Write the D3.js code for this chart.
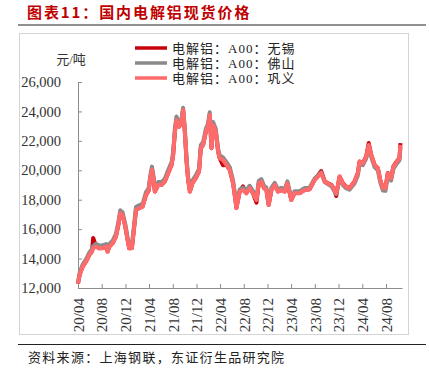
<!DOCTYPE html>
<html>
<head>
<meta charset="utf-8">
<script src="https://cdn.jsdelivr.net/npm/d3@7"></script>
<style>
  body { margin: 0; background: #fff; }
  svg { display: block; font-family: "Liberation Serif", "Noto Sans CJK SC", serif; }
</style>
</head>
<body>
<svg id="chart" width="429" height="375"></svg>
<script>
// 日期（x 轴）
const dates = [
  "2020-04-01","2020-04-10","2020-04-25","2020-05-12","2020-05-29","2020-06-12","2020-06-18","2020-07-02","2020-07-19","2020-08-06",
  "2020-08-23","2020-08-31","2020-09-09","2020-09-26","2020-10-13","2020-10-27","2020-11-04","2020-11-16","2020-11-30","2020-12-12",
  "2020-12-20","2021-01-03","2021-01-15","2021-01-24","2021-02-09","2021-02-27","2021-03-16","2021-03-30","2021-04-08","2021-04-16",
  "2021-04-24","2021-05-01","2021-05-18","2021-06-04","2021-06-21","2021-07-08","2021-07-26","2021-08-03","2021-08-12","2021-08-20",
  "2021-09-03","2021-09-15","2021-09-23","2021-10-02","2021-10-11","2021-10-19","2021-10-28","2021-11-10","2021-11-27","2021-12-14",
  "2021-12-23","2022-01-04","2022-01-18","2022-01-29","2022-02-07","2022-02-16","2022-02-24","2022-03-10","2022-03-22","2022-03-30",
  "2022-04-16","2022-05-04","2022-05-21","2022-06-07","2022-06-19","2022-06-24","2022-07-11","2022-07-28","2022-08-14","2022-08-31",
  "2022-09-17","2022-10-05","2022-10-17","2022-10-30","2022-11-13","2022-11-25","2022-12-07","2022-12-21","2023-01-07","2023-01-24",
  "2023-02-10","2023-02-27","2023-03-13","2023-03-25","2023-04-02","2023-04-19","2023-05-15","2023-06-10","2023-07-05","2023-07-31",
  "2023-08-17","2023-09-03","2023-09-21","2023-10-08","2023-10-25","2023-11-10","2023-11-19","2023-12-06","2023-12-23","2024-01-09",
  "2024-01-26","2024-02-21","2024-03-09","2024-03-18","2024-04-04","2024-04-21","2024-05-04","2024-05-17","2024-06-03","2024-06-20",
  "2024-07-02","2024-07-16","2024-07-29","2024-08-10","2024-08-27","2024-09-08","2024-09-25","2024-10-09","2024-10-14"
];

// 电解铝：A00：无锡
const wuxi = [
  12300,12950,13450,13800,14250,14500,15400,14850,14700,14720,
  14800,14480,14820,15050,15500,16400,17100,16980,16180,15270,
  14700,14720,16180,17300,17430,17540,18300,18620,19500,20060,
  19400,18560,19000,19010,19240,19800,20370,21050,22620,23430,
  22970,23320,24100,22630,20600,19350,18560,19120,19470,19920,
  21510,21730,22630,22970,23770,21500,23090,22620,21280,20830,
  20350,20370,20030,19120,17990,17430,18560,18900,18450,18790,
  18450,17800,19120,19240,18790,18670,17650,18670,19010,18560,
  18670,18560,19120,18450,17990,18450,18450,18670,18710,19350,
  19650,19950,19240,19120,19010,18670,18250,19580,19120,18900,
  18790,19240,19810,20600,20490,20940,21850,21050,20370,20150,
  19350,18790,18790,19810,19470,20260,20600,20830,21850
];

// 电解铝：A00：佛山
const foshan = [
  12400,13050,13600,13950,14400,14650,14850,15000,14880,14900,
  14980,14650,15000,15220,15680,16600,17280,17150,16350,15450,
  14880,14900,16380,17500,17620,17720,18500,18800,19700,20250,
  19600,18750,19200,19200,19420,20000,20560,21250,22850,23650,
  23180,23520,24250,22850,20800,19550,18750,19300,19650,20100,
  21700,21920,22820,23160,23950,21700,23280,22820,21470,21020,
  20880,20550,20200,19300,18150,17600,18700,18820,18620,18950,
  18600,18100,19280,19400,18950,18820,17800,18820,19150,18700,
  18820,18700,19250,18580,18120,18580,18580,18800,18820,19450,
  19650,19850,19200,19050,18920,18560,18380,19450,19000,18780,
  18680,19100,19650,20450,20350,20800,21550,20900,20220,20000,
  19200,18620,18600,19650,19300,20100,20450,20680,21550
];

// 电解铝：A00：巩义
const gongyi = [
  12300,12900,13450,13790,14240,14470,14700,14810,14700,14700,
  14810,14470,14810,15040,15490,16400,17080,16960,16170,15260,
  14700,14700,16170,17300,17420,17530,18300,18600,19500,20050,
  19400,18550,19000,19000,19230,19800,20360,21040,22620,23420,
  22960,23310,24100,22620,20590,19340,18550,19110,19460,19910,
  21500,21720,22620,22960,23760,21500,23080,22620,21270,20820,
  20700,20360,20020,19110,17980,17420,18550,18660,18440,18780,
  18440,17980,19110,19230,18780,18660,17640,18660,19000,18550,
  18660,18550,19110,18440,17980,18440,18440,18660,18700,19340,
  19570,19800,19230,19110,19000,18660,18440,19570,19110,18890,
  18780,19230,19800,20590,20480,20930,21720,21040,20360,20140,
  19340,18780,18780,19800,19460,20250,20590,20820,21720
];

const seriesNames = ["电解铝：A00：无锡", "电解铝：A00：佛山", "电解铝：A00：巩义"];
const seriesColors = ["#c8000a", "#8a8a8a", "#ff6a6a"];
const seriesValues = [wuxi, foshan, gongyi];

const yTicks = [12000, 14000, 16000, 18000, 20000, 22000, 24000, 26000];
const xTickLabels = ["20/04","20/08","20/12","21/04","21/08","21/12","22/04","22/08","22/12","23/04","23/08","23/12","24/04","24/08"];

const svg = d3.select("#chart");
const margin = { top: 82, left: 78 };
const width = 324;
const height = 206;

const parseDate = d3.timeParse("%Y-%m-%d");
const x_scale = d3.scaleTime()
  .domain([parseDate("2020-04-01"), parseDate("2024-10-22")])
  .range([0, width]);
const y_scale = d3.scaleLinear().domain([12000, 26000]).range([height, 0]);

// 标题
svg.append("text")
  .attr("x", 27).attr("y", 18)
  .attr("font-family", "Noto Sans CJK SC")
  .attr("font-weight", "bold")
  .attr("font-size", 15)
  .attr("letter-spacing", 1.9)
  .attr("fill", "#c00000")
  .text("图表11：国内电解铝现货价格");

svg.append("line").attr("x1", 18).attr("x2", 426).attr("y1", 25).attr("y2", 25)
  .attr("stroke", "#222").attr("stroke-width", 1.2);

// 图框
svg.append("rect").attr("x", 19.5).attr("y", 33.5).attr("width", 389).attr("height", 301)
  .attr("fill", "none").attr("stroke", "#d4d4d4");

const g = svg.append("g").attr("transform", `translate(${margin.left}, ${margin.top})`);

// 坐标轴
const yAxis = g.append("g")
  .call(d3.axisLeft(y_scale).tickValues(yTicks).tickFormat(d3.format(","))
    .tickSizeInner(-4).tickSizeOuter(0).tickPadding(17));
const xTickDates = xTickLabels.map((s) => new Date(2000 + +s.slice(0, 2), +s.slice(3) - 1, 1));
const xAxis = g.append("g")
  .attr("transform", `translate(0, ${height})`)
  .call(d3.axisBottom(x_scale).tickValues(xTickDates).tickFormat((d, i) => xTickLabels[i])
    .tickSizeInner(-4).tickSizeOuter(0));

[yAxis, xAxis].forEach((ax) => {
  ax.select(".domain").attr("stroke", "#8c8c8c");
  ax.selectAll(".tick line").attr("stroke", "#8c8c8c");
  ax.selectAll(".tick text").attr("fill", "#333").attr("font-family", "Liberation Serif");
});
yAxis.selectAll(".tick text").attr("font-size", 14.5);
xAxis.selectAll(".tick text")
  .attr("font-size", 15)
  .attr("transform", "rotate(-90)")
  .attr("text-anchor", "end")
  .attr("x", -10).attr("y", 0).attr("dy", "0.35em");

// 单位
svg.append("text").attr("x", 71).attr("y", 64).attr("text-anchor", "middle")
  .attr("font-size", 13).attr("fill", "#333").text("元/吨");

// 折线
const line = d3.line()
  .x((d) => x_scale(d.date))
  .y((d) => y_scale(d.value))
  .curve(d3.curveLinear);

seriesValues.forEach((vals, k) => {
  const pts = dates.map((d, i) => ({ date: parseDate(d), value: vals[i] }));
  g.append("path")
    .datum(pts)
    .attr("fill", "none")
    .attr("stroke", seriesColors[k])
    .attr("stroke-width", 4)
    .attr("stroke-linejoin", "round")
    .attr("d", line);
});

// 图例
const legend = svg.append("g").attr("transform", "translate(135, 48)");
seriesNames.forEach((name, k) => {
  const row = legend.append("g").attr("transform", `translate(0, ${k * 15})`);
  row.append("line").attr("x1", 0).attr("x2", 32).attr("y1", 0).attr("y2", 0)
    .attr("stroke", seriesColors[k]).attr("stroke-width", 3.5);
  row.append("text").attr("x", 37).attr("dy", "0.35em")
    .attr("font-size", 13).attr("letter-spacing", 1).attr("fill", "#222").text(name);
});

// 资料来源
svg.append("line").attr("x1", 18).attr("x2", 426).attr("y1", 344.5).attr("y2", 344.5)
  .attr("stroke", "#222").attr("stroke-width", 1.2);
svg.append("text").attr("x", 28).attr("y", 362)
  .attr("font-size", 13).attr("letter-spacing", 1.3).attr("fill", "#222")
  .text("资料来源：上海钢联，东证衍生品研究院");
</script>
</body>
</html>
